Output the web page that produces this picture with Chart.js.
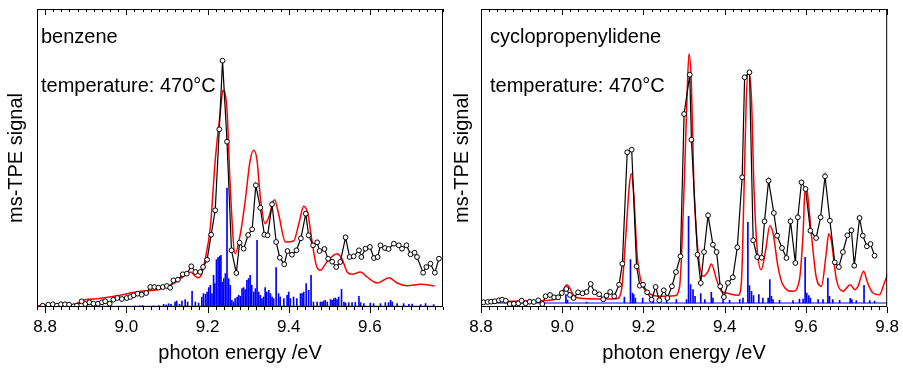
<!DOCTYPE html>
<html>
<head>
<meta charset="utf-8">
<script src="https://cdn.jsdelivr.net/npm/chart.js@4.4.1/dist/chart.umd.min.js"></script>
<style>
  html, body { margin: 0; padding: 0; background: #fff; }
  #wrap { position: relative; width: 903px; height: 369px; }
  #c1 { position: absolute; left: 0; top: 0; }
  #c2 { position: absolute; left: 450px; top: 0; }
</style>
</head>
<body>
<div id="wrap">
  <canvas id="c1" width="450" height="369"></canvas>
  <canvas id="c2" width="453" height="369"></canvas>
</div>
<script>
// ---- benzene (left panel) ----
const benzeneE = [8.794,8.808,8.819,8.829,8.839,8.849,8.859,8.870,8.878,8.890,
  8.899,8.909,8.919,8.930,8.940,8.948,8.959,8.968,8.978,8.989,
  9.001,9.010,9.018,9.028,9.038,9.049,9.059,9.069,9.079,9.090,
  9.100,9.108,9.116,9.127,9.139,9.149,9.160,9.170,9.182,9.189,
  9.199,9.209,9.219,9.229,9.237,9.248,9.259,9.271,9.279,9.289,
  9.300,9.310,9.319,9.330,9.340,9.348,9.359,9.369,9.378,9.389,
  9.397,9.408,9.419,9.430,9.442,9.449,9.460,9.470,9.476,9.488,
  9.497,9.507,9.517,9.527,9.540,9.550,9.560,9.573,9.579,9.589,
  9.600,9.610,9.619,9.626,9.637,9.646,9.659,9.671,9.679,9.690,
  9.700,9.710,9.716,9.731,9.739,9.749,9.760,9.770];
const benzeneSignal = [1.3,2.3,2.7,1.3,2.7,2.7,2.3,0.7,1.3,5.7,
  3,4.7,3.3,3.3,4.7,5.7,3.3,7.3,9,8,
  9,10,11.7,13.3,12.3,14,20,20,19.3,20,
  21,19.3,26.7,27.3,32.7,33.3,40.7,35,35,40,
  47.3,72.3,96.7,177.7,246.3,165.3,56.7,34,64.3,58.3,
  72,77.7,121.7,99.3,72.3,71.7,102.7,65,49.3,42.7,
  56,52.3,56.7,68.7,93.3,71.7,61.7,64.7,56,58,
  48.3,45.3,40,45,69.7,50,50.7,56.7,50,58.3,
  60,49,50,61.7,59,58,63.3,61.7,58.3,61.7,
  52.7,54.3,50,34.3,40,43.3,34.3,48.3];

const benzeneSimE = [8.779,8.862,8.899,8.927,8.977,9.034,9.075,9.116,9.141,9.158,
  9.170,9.178,9.186,9.194,9.207,9.219,9.232,9.238,9.248,9.256,
  9.268,9.281,9.293,9.305,9.314,9.322,9.330,9.342,9.351,9.365,
  9.375,9.392,9.412,9.425,9.437,9.447,9.457,9.468,9.478,9.494,
  9.519,9.531,9.544,9.556,9.577,9.593,9.618,9.647,9.667,9.692,
  9.725,9.759];
const benzeneSim = [1.3,1.7,7.3,8.3,11.3,15.7,17.3,23.3,30.7,35,
  30.7,29.3,33.3,47.3,80,146.7,196.7,216.7,196.7,120,
  53.3,73.3,106.7,146.7,156.7,146.7,110,83.3,90,107.3,
  93.3,65,66,83.3,100.7,93.3,66.7,41.7,36.7,45,
  53.3,48.3,35,32.7,35,30,24,29.3,24,21.3,
  22.7,21];

const benzeneStickE = [9.022,9.033,9.040,9.067,9.080,9.092,9.098,9.104,9.110,9.120,
  9.124,9.131,9.137,9.145,9.151,9.162,9.170,9.178,9.186,9.190,
  9.195,9.199,9.203,9.207,9.211,9.215,9.218,9.222,9.226,9.230,
  9.233,9.236,9.240,9.244,9.248,9.252,9.256,9.260,9.264,9.268,
  9.273,9.277,9.281,9.285,9.289,9.293,9.297,9.301,9.305,9.309,
  9.314,9.318,9.322,9.326,9.330,9.334,9.338,9.342,9.346,9.351,
  9.355,9.359,9.363,9.369,9.375,9.379,9.388,9.396,9.400,9.404,
  9.412,9.420,9.429,9.433,9.437,9.443,9.449,9.455,9.461,9.470,
  9.478,9.482,9.486,9.490,9.495,9.503,9.507,9.511,9.515,9.519,
  9.523,9.530,9.536,9.540,9.548,9.556,9.564,9.573,9.577,9.585,
  9.601,9.609,9.626,9.638,9.646,9.651,9.655,9.667,9.683,9.696,
  9.704,9.725,9.737,9.757];
const benzeneStick = [1,1.2,1.5,1,1.3,2.7,2,3.3,2.7,5,
  6,2.7,6,7.4,5,15.7,5,4,10,13.4,
  12.7,15,19.4,21.7,13.4,31.7,23.4,47.4,49.4,50.7,
  51.7,25,28.4,33.4,119,28.4,21.7,6.7,5,8.4,
  10,11.7,10.7,18.4,19.4,17.4,26.7,28.4,31.7,21.7,
  15,18.4,66.7,15,11.7,8.4,10,19.4,15,16.7,
  13.4,10,8.4,39.4,13.4,10,8.4,11.7,15,8.4,
  10,8.4,13.4,13.4,15,23.4,16.7,31.7,5,5,
  5,5,6,6.7,5,7.4,6.7,8.4,9,7.4,
  10,17.7,5,4,4.4,4.4,4.7,10.7,4.4,3.4,
  4,3.4,3.4,4.4,4.4,6.7,5,3.4,3.4,2.7,
  3,2.4,3.4,2.4];
const benzeneStickRange = [8.899, 9.760];
const benzeneStickBase = 0.7;

// ---- cyclopropenylidene (right panel) ----
const c3h2E = [8.806,8.816,8.825,8.834,8.844,8.852,8.861,8.871,8.881,8.892,
  8.900,8.910,8.920,8.930,8.941,8.951,8.959,8.970,8.980,8.990,
  8.999,9.010,9.019,9.028,9.039,9.050,9.060,9.070,9.080,9.091,
  9.101,9.109,9.118,9.128,9.140,9.148,9.160,9.171,9.183,9.191,
  9.199,9.209,9.220,9.230,9.239,9.250,9.259,9.270,9.280,9.291,
  9.300,9.314,9.318,9.333,9.341,9.349,9.359,9.371,9.380,9.389,
  9.398,9.408,9.420,9.431,9.443,9.449,9.461,9.470,9.480,9.491,
  9.498,9.508,9.521,9.529,9.541,9.552,9.562,9.574,9.580,9.589,
  9.599,9.611,9.625,9.636,9.647,9.659,9.671,9.681,9.691,9.702,
  9.712,9.719,9.732,9.740,9.750,9.759,9.769];
const c3h2Signal = [4.7,5,5.3,5.7,6.7,7.3,6.3,3,3.3,3.7,
  6.3,3.7,5.3,5,6.7,3,10.7,12,9.7,9.7,
  14,18,12,9,14.7,13.7,15,23,14.7,12.7,
  7.7,11.3,15,10.7,22.3,43.3,154.7,157.3,40.7,21.3,
  22.3,14.7,7.3,20,6.7,16.7,9,20.7,35,50.7,
  193,232.3,167.3,52.3,24,55,91.7,62.3,55,20.7,
  10,24,29.7,59.7,129.7,229.7,234.7,66.7,50,49.3,
  85.7,126.3,94,71.3,59,49,85.7,44,89.7,124.7,
  118,76.3,69,89.7,130.7,86.3,44.7,40,55,71.7,
  76.7,41.3,89,71.3,60.7,63,51.3];

const c3h2SimE = [8.800,8.855,8.937,8.978,8.994,9.004,9.011,9.017,9.027,9.039,
  9.101,9.134,9.146,9.157,9.165,9.170,9.176,9.184,9.193,9.203,
  9.220,9.248,9.277,9.289,9.299,9.307,9.312,9.318,9.324,9.333,
  9.347,9.359,9.367,9.380,9.392,9.404,9.433,9.441,9.447,9.453,
  9.458,9.466,9.472,9.480,9.490,9.501,9.511,9.519,9.531,9.543,
  9.568,9.584,9.593,9.598,9.603,9.613,9.625,9.638,9.650,9.656,
  9.662,9.675,9.691,9.709,9.720,9.728,9.742,9.752,9.765,9.781,
  9.793,9.802];
const c3h2Sim = [4.7,5.7,6.3,7.3,10.7,18,22.3,20,12.3,9,
  8,8.3,17.3,74,120.7,133.3,113.3,54,27.3,17.3,
  12.3,10.7,11.3,20.7,107.3,207.3,253.3,223.3,123.3,60.7,
  30.7,35.7,43,27.3,15.7,14,11.7,24,107.3,207.3,
  234,207.3,120,57.3,37.3,57.3,81.3,74,40.7,22.3,
  15.7,27.3,74,119,115.7,74,30.7,20.7,54,73.3,
  67.3,27.3,15.7,22.3,17.3,20.7,35.7,24,14,12.3,
  24,34];

const c3h2StickE = [8.872,8.930,9.009,9.013,9.060,9.153,9.168,9.173,9.176,9.180,
  9.198,9.224,9.257,9.281,9.306,9.311,9.316,9.322,9.327,9.341,
  9.351,9.367,9.371,9.396,9.412,9.437,9.445,9.457,9.461,9.466,
  9.471,9.484,9.494,9.507,9.511,9.515,9.519,9.535,9.568,9.584,
  9.593,9.598,9.602,9.607,9.611,9.630,9.642,9.654,9.658,9.666,
  9.683,9.709,9.713,9.724,9.743,9.757,9.769];
const c3h2Stick = [5.5,5.5,12.3,7,5,10,47.3,14,12.3,9,
  9,7.3,6.7,7.3,7.3,90.7,22.3,17.3,10.7,13.3,
  7.3,14.7,9,7.3,6.7,7.3,9,84.7,21.3,15.7,
  11.3,12.3,9,9,27.3,10.7,7.3,6.7,6.3,8,
  8,49.7,14,11.3,9,7.3,7.3,29,10.7,7.3,
  6.7,8.7,7.3,6.3,21.7,6.3,6];
const c3h2StickRange = [8.8, 9.8];
const c3h2StickBase = 4;

const tempLabel = 'temperature: 470°C';

const FONT = "'Liberation Sans', Arial, Helvetica, sans-serif";
const pairs = (xs, ys) => xs.map((x, i) => ({ x, y: ys[i] }));
const isMajor = v => Math.abs(v * 5 - Math.round(v * 5)) < 1e-6;

// frame round the plot area plus the small tick marks (inward at top, outward at bottom)
const frameTicks = {
  id: 'frameTicks',
  afterDatasetsDraw(chart) {
    const { ctx, chartArea: a, scales: { x } } = chart;
    ctx.save();
    ctx.strokeStyle = '#000';
    ctx.lineWidth = 1;
    ctx.strokeRect(a.left + 0.5, a.top + 0.5, a.right - a.left - 1, a.bottom - a.top - 1);
    ctx.beginPath();
    x.ticks.forEach(t => {
      const px = Math.round(x.getPixelForValue(t.value)) + 0.5;
      const len = isMajor(t.value) ? 6 : 3;
      ctx.moveTo(px, a.bottom);
      ctx.lineTo(px, a.bottom + len);
      ctx.moveTo(px, a.top);
      ctx.lineTo(px, a.top + len);
    });
    ctx.stroke();
    ctx.restore();
  }
};

// the two text lines in the upper left corner
const notes = {
  id: 'notes',
  afterDraw(chart, args, opts) {
    const { ctx, chartArea: a } = chart;
    ctx.save();
    ctx.fillStyle = '#000';
    ctx.font = '20px ' + FONT;
    opts.lines.forEach((t, i) => ctx.fillText(t, a.left + opts.dx, a.top + 34 + i * 49));
    ctx.restore();
  }
};

function makePanel(id, cfg) {
  new Chart(document.getElementById(id), {
    type: 'line',
    data: {
      datasets: [
        {
          type: 'line',
          data: pairs(cfg.e, cfg.signal),
          borderColor: '#000',
          borderWidth: 1.2,
          pointRadius: 2.4,
          pointBackgroundColor: '#fff',
          pointBorderColor: '#000',
          pointBorderWidth: 1,
          tension: 0,
          order: 1
        },
        {
          type: 'line',
          data: pairs(cfg.simE, cfg.sim),
          borderColor: '#ff0000',
          borderWidth: 1.5,
          pointRadius: 0,
          cubicInterpolationMode: 'monotone',
          order: 2
        },
        {
          type: 'bar',
          data: pairs(cfg.stickE, cfg.stick),
          backgroundColor: '#0000ff',
          barThickness: 1,
          base: cfg.base,
          grouped: false,
          order: 3
        },
        {
          type: 'line',
          data: pairs(cfg.stickRange, [cfg.base, cfg.base]),
          borderColor: '#0000ff',
          borderWidth: 1,
          pointRadius: 0,
          order: 4
        }
      ]
    },
    options: {
      responsive: false,
      animation: false,
      layout: { padding: { left: 0, right: cfg.padRight, top: 9, bottom: 0 } },
      plugins: {
        legend: { display: false },
        tooltip: { enabled: false },
        notes: { lines: [cfg.title, tempLabel], dx: cfg.noteDx }
      },
      scales: {
        x: {
          type: 'linear',
          min: cfg.xmin,
          max: cfg.xmax,
          offset: false,
          grid: { display: false, drawTicks: true, tickLength: 6 },
          border: { display: false },
          ticks: {
            stepSize: 0.02,
            autoSkip: false,
            maxRotation: 0,
            padding: 4,
            color: '#000',
            font: { family: FONT, size: 17 },
            callback: v => isMajor(v) ? v.toFixed(1) : ''
          },
          title: {
            display: true,
            text: 'photon energy /eV',
            color: '#000',
            font: { family: FONT, size: 20 },
            padding: { top: 0, bottom: 4 }
          },
          afterFit: s => { s.height = 62; }
        },
        y: {
          min: 0,
          max: 298,
          grid: { display: false },
          border: { display: false },
          ticks: { display: false },
          title: {
            display: true,
            text: 'ms-TPE signal',
            color: '#000',
            font: { family: FONT, size: 20 },
            padding: { top: cfg.yTitlePad, bottom: 0 }
          },
          afterFit: s => { s.width = cfg.yWidth; }
        }
      }
    },
    plugins: [frameTicks, notes]
  });
}

makePanel('c1', {
  title: 'benzene',
  e: benzeneE, signal: benzeneSignal,
  simE: benzeneSimE, sim: benzeneSim,
  stickE: benzeneStickE, stick: benzeneStick,
  stickRange: benzeneStickRange, base: benzeneStickBase,
  xmin: 8.78, xmax: 9.78,
  padRight: 7, yWidth: 37, yTitlePad: 4, noteDx: 4
});

makePanel('c2', {
  title: 'cyclopropenylidene',
  e: c3h2E, signal: c3h2Signal,
  simE: c3h2SimE, sim: c3h2Sim,
  stickE: c3h2StickE, stick: c3h2Stick,
  stickRange: c3h2StickRange, base: c3h2StickBase,
  xmin: 8.8, xmax: 9.8,
  padRight: 15, yWidth: 31, yTitlePad: 0, noteDx: 9
});
</script>
</body>
</html>
